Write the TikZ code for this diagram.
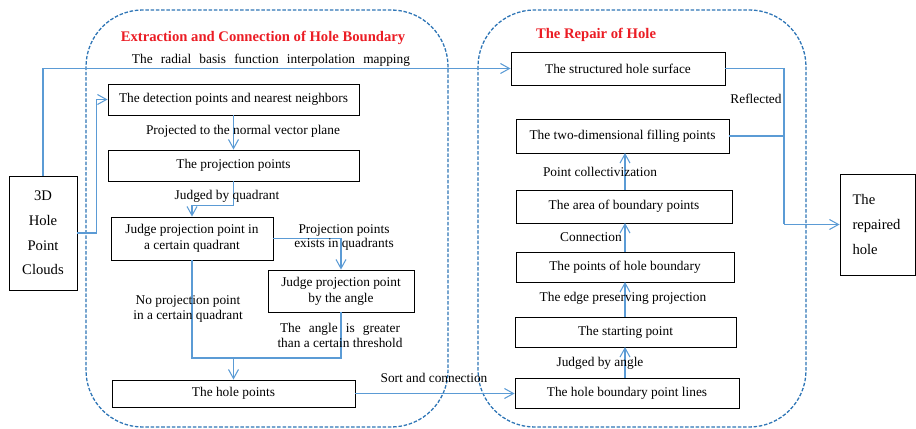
\documentclass[tikz,border=0pt]{standalone}
\usepackage{fontspec}
\setmainfont{Liberation Serif}
\usetikzlibrary{positioning, arrows.meta, calc}
\definecolor{linkblue}{RGB}{91,155,213}
\definecolor{frameblue}{RGB}{46,117,182}
\definecolor{titlered}{RGB}{235,28,36}

\begin{document}
\begin{tikzpicture}[x=0.03cm, y=-0.03cm,
	box/.style={rectangle, draw, line width=0.8pt, align=center, inner sep=2pt, font=\fontsize{11.4}{13.5}\selectfont},
	endbox/.style={box, font=\fontsize{12.5}{14}\selectfont},
	wire/.style={draw, linkblue, line width=0.9pt},
	link/.style={wire, -{Straight Barb[length=2.7mm,width=3mm]}},
	tag/.style={font=\fontsize{11.4}{12.5}\selectfont, align=center, inner sep=0pt},
	frame/.style={draw, frameblue, line width=1.1pt, dash pattern=on 3pt off 1.5pt, rounded corners=1.7cm},
	title/.style={font=\fontsize{12.5}{14}\selectfont\bfseries, text=titlered, inner sep=0pt}]
		
		\useasboundingbox (0,0) rectangle (916,429);
		
		%Stage frames
		\path [frame] (86,10) rectangle (448,427);
		\path [frame] (478,10) rectangle (806,427);
		\node [title] (extractTitle) at (263,38) {Extraction and Connection of Hole Boundary};
		\node [title] (repairTitle) at (596,35) {The Repair of Hole};
		
		%Input and output nodes
		\node [endbox, minimum width=2.04cm, minimum height=3.42cm] 
		(cloud) at (43,233) {3D\\[7pt]Hole\\[7pt]Point\\[7pt]Clouds};
		\node [endbox, minimum width=2.25cm, minimum height=3.03cm, text width=1.5cm, align=left, 
		inner xsep=0.36cm] (repaired) at (877.5,224.5) {The\\[7pt]repaired\\[7pt]hole};
		
		%Boundary nodes
		\node [box, minimum width=7.53cm, minimum height=0.93cm] 
		(detect) at (233.5,99.5) {The detection points and nearest neighbors};
		\node [box, minimum width=7.53cm, minimum height=0.93cm] 
		(project) at (233.5,165.5) {The projection points};
		\node [box, minimum width=4.86cm, minimum height=1.29cm] 
		(quadrant) at (192,238.5) {Judge projection point in\\a certain quadrant};
		\node [box, minimum width=4.38cm, minimum height=1.26cm] 
		(angle) at (341,291) {Judge projection point\\by the angle};
		\node [box, minimum width=7.29cm, minimum height=0.81cm] 
		(holepts) at (233.5,393.5) {The hole points};
		
		%Repair nodes
		\node [box, minimum width=6.42cm, minimum height=0.99cm] 
		(surface) at (618,68.5) {The structured hole surface};
		\node [box, minimum width=6.39cm, minimum height=1.02cm] 
		(filling) at (622.5,136) {The two-dimensional filling points};
		\node [box, minimum width=6.48cm, minimum height=0.99cm] 
		(area) at (624,206.5) {The area of boundary points};
		\node [box, minimum width=6.54cm, minimum height=0.9cm] 
		(boundary) at (625,267) {The points of hole boundary};
		\node [box, minimum width=6.63cm, minimum height=0.9cm] 
		(starting) at (625.5,332) {The starting point};
		\node [box, minimum width=6.72cm, minimum height=0.9cm] 
		(lines) at (627,393) {The hole boundary point lines};
		
		\coordinate (merge) at (233.5,358);
		\coordinate (reflect) at (784,224.5);
		
		%Links
		\path [link] (cloud.north) |- (surface.west);
		\path [link] (cloud.east) -- ++(19,0) |- (detect.west);
		\path [link] (detect.south) -- (project.north);
		\path [link] (project.south) -- ++(0,24) -| (quadrant.north);
		\path [link] (quadrant.east) -| (angle.north);
		\path [wire] (quadrant.south) |- (merge);
		\path [wire] (angle.south) |- (merge);
		\path [link] (merge) -- (holepts.north);
		\path [link] (holepts.east) -- (holepts.east -| lines.west);
		\path [link] (625,378) -- (625,347);
		\path [link] (625,317) -- (625,282);
		\path [link] (625,252) -- (625,223);
		\path [link] (625,190) -- (625,153);
		\path [wire] (surface.east) -| (reflect);
		\path [wire] (filling.east) -| (reflect);
		\path [link] (reflect) -- (repaired.west);
		
		%Link labels
		\node [tag] at (271,60) {\makebox[8.34cm][s]{The radial basis function interpolation mapping}};
		\node [tag] at (243,131) {Projected to the normal vector plane};
		\node [tag] at (227,196) {Judged by quadrant};
		\node [tag] at (344,237.5) {Projection points\\exists in quadrants};
		\node [tag] at (188,309) {No projection point\\in a certain quadrant};
		\node [tag] at (340,335.5) {\makebox[3.6cm][s]{The angle is greater}\\than a certain threshold};
		\node [tag] at (434,378) {Sort and connection};
		\node [tag] at (756,99) {Reflected};
		\node [tag] at (600,363) {Judged by angle};
		\node [tag] at (623,298) {The edge preserving projection};
		\node [tag] at (591,237) {Connection};
		\node [tag] at (600,172) {Point collectivization};
		
\end{tikzpicture}
\end{document}
